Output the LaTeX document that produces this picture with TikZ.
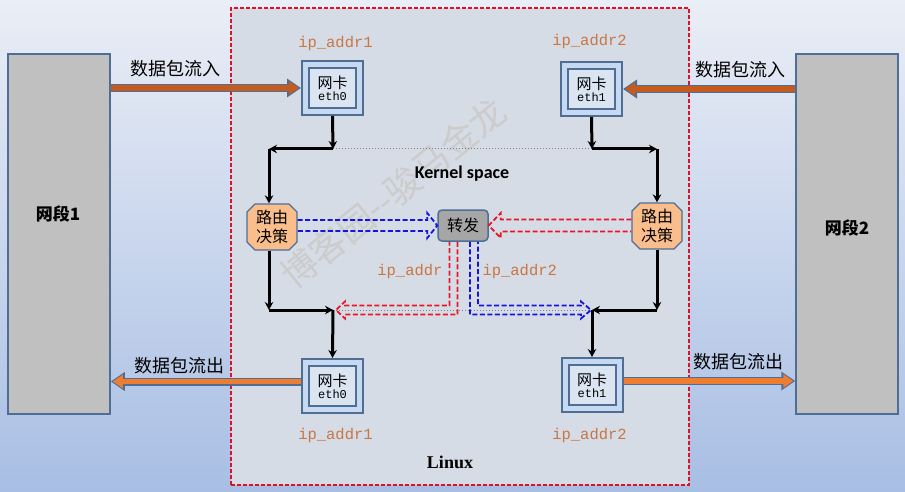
\documentclass[tikz,border=0pt]{standalone}
\usepackage{fontspec}
\setmainfont{Liberation Serif}
\setmonofont{Liberation Mono}
\newfontfamily\cjk{Noto Sans CJK SC}
\newfontfamily\kfont{Carlito}
\usetikzlibrary{arrows.meta,shapes.misc,calc}
\definecolor{bgtop}{RGB}{234,238,246}
\definecolor{bgbot}{RGB}{168,190,228}
\definecolor{edgeblue}{RGB}{79,110,150}
\definecolor{segfill}{RGB}{192,192,192}
\definecolor{linuxfill}{RGB}{214,220,229}
\definecolor{linuxred}{RGB}{224,16,40}
\definecolor{nicout}{RGB}{198,217,241}
\definecolor{nicin}{RGB}{219,229,241}
\definecolor{routefill}{RGB}{250,190,140}
\definecolor{fwdfill}{RGB}{166,166,166}
\definecolor{ipcolor}{RGB}{200,118,68}
\definecolor{flowin}{RGB}{195,92,30}
\definecolor{flowout}{RGB}{237,125,49}
\definecolor{dashblue}{RGB}{20,20,220}
\definecolor{dashred}{RGB}{235,20,40}
\begin{document}
\begin{tikzpicture}[x=1pt,y=-1pt,
    seg/.style={draw=edgeblue,line width=1.5pt,fill=segfill,minimum width=102pt,minimum height=360pt},
    nic/.style={draw=edgeblue,line width=2pt,double=nicout,double distance=5pt,fill=nicin,
      minimum width=54pt,minimum height=47pt,inner sep=0pt,outer sep=4.5pt,align=center},
    route/.style={chamfered rectangle,chamfered rectangle xsep=4pt,chamfered rectangle ysep=4pt,
      draw=edgeblue,line width=1.3pt,fill=routefill,minimum width=50pt,minimum height=46pt,
      inner sep=0pt,align=center,font=\cjk\fontsize{16}{19}\selectfont},
    fwdbox/.style={draw=edgeblue,line width=1.5pt,fill=fwdfill,rounded corners=4pt,
      minimum width=50pt,minimum height=31pt,font=\cjk\fontsize{16}{18}\selectfont},
    ip/.style={text=ipcolor,font=\ttfamily\fontsize{15.5}{16}\selectfont},
    flowtxt/.style={font=\cjk\fontsize{18}{20}\selectfont},
    blk/.style={line width=3pt,-{Stealth[length=8pt,width=8.5pt]}},
    hint/.style={gray,line width=1pt,dotted},
    pass/.style={draw=#1,line width=1.8pt,dash pattern=on 5pt off 2.5pt,line join=miter},
    flow/.style={draw=edgeblue,line width=8pt,-{Triangle[length=14pt,width=18pt]},
      postaction={draw=#1,line width=5.5pt,shorten >=2pt,-{Triangle[length=10pt,width=13pt]}}}]
  \useasboundingbox (0,0) rectangle (905,492);
  \shade[top color=bgtop,bottom color=bgbot] (0,0) rectangle (905,492);

  % the two network segments and the linux host
  \node[seg] (seg1) at (59,234) {};
  \node[seg] (seg2) at (847,234) {};
  \node[font=\cjk\bfseries\fontsize{17}{19}\selectfont] (seg1lbl) at (58,214) {网段1};
  \node[font=\cjk\bfseries\fontsize{17}{19}\selectfont] (seg2lbl) at (847,228) {网段2};
  \node[draw=linuxred,line width=1.6pt,dash pattern=on 4pt off 2pt,fill=linuxfill,
    minimum width=458pt,minimum height=477pt] (linux) at (460,246.5) {};
  \node[rotate=39,text=gray!40,font=\cjk\fontsize{36}{36}\selectfont] (mark) at (393,193) {博客园--骏马金龙};

  % interfaces
  \node[nic] (nic1in) at (332.5,88) {{\cjk\fontsize{15}{16}\selectfont 网卡}\\{\ttfamily\fontsize{12}{14}\selectfont eth0}};
  \node[nic] (nic2in) at (591.5,89) {{\cjk\fontsize{15}{16}\selectfont 网卡}\\{\ttfamily\fontsize{12}{14}\selectfont eth1}};
  \node[nic] (nic1out) at (332.5,386) {{\cjk\fontsize{15}{16}\selectfont 网卡}\\{\ttfamily\fontsize{12}{14}\selectfont eth0}};
  \node[nic] (nic2out) at (592,385) {{\cjk\fontsize{15}{16}\selectfont 网卡}\\{\ttfamily\fontsize{12}{14}\selectfont eth1}};
  \node[ip] (ip1in) at (335.5,43) {ip\_addr1};
  \node[ip] (ip2in) at (589.5,41) {ip\_addr2};
  \node[ip] (ip1out) at (335.5,435) {ip\_addr1};
  \node[ip] (ip2out) at (589.5,435) {ip\_addr2};

  % routing and forwarding
  \node[route] (rt1) at (272,227) {路由\\决策};
  \node[route] (rt2) at (657,226) {路由\\决策};
  \node[fwdbox] (fwd) at (463,225.5) {转发};
  \node[font=\kfont\bfseries\fontsize{18}{20}\selectfont] (kernel) at (462,174) {Kernel space};
  \node[font=\bfseries\fontsize{18}{20}\selectfont] (linuxlbl) at (450,462) {Linux};

  \coordinate (kin1) at (333,149);
  \coordinate (kl1) at (269,149);
  \coordinate (kin2) at (592,149);
  \coordinate (kr1) at (657,149);
  \coordinate (kl2) at (269,310);
  \coordinate (kout1) at (333,310);
  \coordinate (kr2) at (657,310);
  \coordinate (kout2) at (592,310);
  \coordinate (rdn) at ([xshift=-9.5pt]fwd.south);
  \coordinate (bdn) at ([xshift=11pt]fwd.south);

  \draw[hint] (kin1) -- (kin2);
  \draw[hint] (kout1) -- (kout2);

  \draw[blk] (nic1in.south) -- (kin1);
  \draw[blk] (kin1) -- (kl1);
  \draw[blk] (kl1) -- (kl1 |- rt1.north);
  \draw[blk] (nic2in.south) -- (kin2);
  \draw[blk] (kin2) -- (kr1);
  \draw[blk] (kr1) -- (kr1 |- rt2.north);
  \draw[blk] (kl2 |- rt1.south) -- (kl2);
  \draw[blk] (kl2) -- (kout1);
  \draw[blk] (kout1) -- (nic1out.north);
  \draw[blk] (kr2 |- rt2.south) -- (kr2);
  \draw[blk] (kr2) -- (kout2);
  \draw[blk] (kout2) -- (nic2out.north);

  \node[ip,anchor=east] (ipmid1) at (446,271) {ip\_addr};
  \node[ip,anchor=west] (ipmid2) at (479,271) {ip\_addr2};

  % hollow dashed arrows through the forwarding box
  \draw[pass=dashblue] ($(rt1.east |- fwd.west)+(0,-5.5)$) -- ($(fwd.west)+(-10,-5.5)$) -- ++(0,-7)
    -- (fwd.west) -- ++(-10,12.5) -- ++(0,-7) -- ($(rt1.east |- fwd.west)+(0,5.5)$);
  \draw[pass=dashred] ($(rt2.west |- fwd.east)+(0,-6)$) -- ($(fwd.east)+(12,-6)$) -- ++(0,-6.5)
    -- (fwd.east) -- ++(12,12.5) -- ++(0,-6.5) -- ($(rt2.west |- fwd.east)+(0,6)$);
  \draw[pass=dashred] ($(rdn)+(4,0)$) -- ($(rdn |- kout1)+(4,4.5)$) -- ($(kout1)+(12,4.5)$) -- ++(0,4)
    -- ($(kout1)+(3,0)$) -- ++(9,-8.5) -- ++(0,4) -- ($(rdn |- kout1)+(-4,-4.5)$) -- ($(rdn)+(-4,0)$);
  \draw[pass=dashblue] ($(bdn)+(-4,0)$) -- ($(bdn |- kout2)+(-4,4.5)$) -- ($(kout2)+(-11,4.5)$) -- ++(0,4)
    -- ($(kout2)+(-1,0)$) -- ++(-10,-8.5) -- ++(0,4) -- ($(bdn |- kout2)+(4,-4.5)$) -- ($(bdn)+(4,0)$);

  % packets in and out
  \draw[flow=flowin] (seg1.east |- nic1in.west) -- (nic1in.west);
  \draw[flow=flowin] (seg2.west |- nic2in.east) -- (nic2in.east);
  \draw[flow=flowout] ([yshift=4.5pt]nic1out.west) -- ([yshift=4.5pt]nic1out.west -| seg1.east);
  \draw[flow=flowout] ([yshift=4pt]nic2out.east) -- ([yshift=4pt]nic2out.east -| seg2.west);
  \node[flowtxt] (inlbl1) at (175,68.5) {数据包流入};
  \node[flowtxt] (inlbl2) at (740.5,70) {数据包流入};
  \node[flowtxt] (outlbl1) at (179.5,366) {数据包流出};
  \node[flowtxt] (outlbl2) at (738.5,362) {数据包流出};
\end{tikzpicture}
\end{document}
